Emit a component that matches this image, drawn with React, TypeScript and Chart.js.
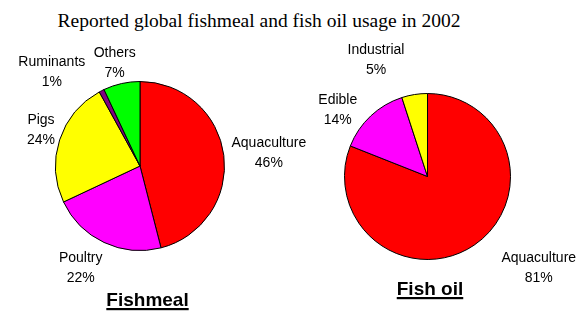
import React, { useEffect, useRef } from "react";
import Chart from "chart.js/auto";

const TITLE = "Reported global fishmeal and fish oil usage in 2002";

const fishmealLabels = ["Aquaculture", "Poultry", "Pigs", "Ruminants", "Others"];
const fishmealValues = [46, 22, 24, 1, 7];
const fishmealColors = ["#FF0000", "#FF00FF", "#FFFF00", "#800080", "#00FF00"];

const fishOilLabels = ["Aquaculture", "Edible", "Industrial"];
const fishOilValues = [81, 14, 5];
const fishOilColors = ["#FF0000", "#FF00FF", "#FFFF00"];

const sliceLabelPlugin = {
  id: "sliceLabels",
  afterDatasetsDraw(chart: any, _args: any, opts: any) {
    const ctx = chart.ctx;
    const meta = chart.getDatasetMeta(0);
    const labels = chart.data.labels;
    const values = chart.data.datasets[0].data;
    ctx.save();
    ctx.font = opts.font;
    ctx.fillStyle = "#000";
    ctx.textAlign = "center";
    ctx.textBaseline = "middle";
    meta.data.forEach((arc: any, i: number) => {
      const p = arc.getProps(["x", "y", "startAngle", "endAngle", "outerRadius"], true);
      const mid = (p.startAngle + p.endAngle) / 2;
      const dx = Math.cos(mid);
      const dy = Math.sin(mid);
      const lines = [String(labels[i]), values[i] + "%"];
      const w = Math.max(...lines.map((l) => ctx.measureText(l).width));
      const lh = opts.lineHeight;
      const h = lh * lines.length;
      const nudge = (opts.nudges && opts.nudges[i]) || [0, 0];
      const cx = p.x + (p.outerRadius + opts.gap) * dx + (dx * w) / 2 + nudge[0];
      const cy = p.y + (p.outerRadius + opts.gap) * dy + (dy * h) / 2 + nudge[1];
      lines.forEach((l, j) => ctx.fillText(l, cx, cy + (j - (lines.length - 1) / 2) * lh));
    });
    const cap = opts.caption;
    if (cap) {
      ctx.font = cap.font;
      ctx.textBaseline = "alphabetic";
      ctx.textAlign = "center";
      ctx.fillText(cap.text, cap.x, cap.y);
      const cw = ctx.measureText(cap.text).width;
      ctx.fillRect(cap.x - cw / 2, cap.y + 2.5, cw, 2.2);
    }
    ctx.restore();
  },
};

function makePie(
  canvas: HTMLCanvasElement,
  labels: string[],
  values: number[],
  colors: string[],
  padding: any,
  nudges: number[][],
  caption: any
) {
  return new Chart(canvas, {
    type: "pie",
    data: {
      labels,
      datasets: [
        {
          data: values,
          backgroundColor: colors,
          borderColor: "#000000",
          borderWidth: 1,
        },
      ],
    },
    options: {
      responsive: false,
      animation: false,
      layout: { padding },
      plugins: {
        legend: { display: false },
        tooltip: { enabled: false },
        sliceLabels: {
          font: "14px 'Liberation Sans', Arial, sans-serif",
          lineHeight: 20,
          gap: 8,
          nudges,
          caption,
        },
      } as any,
    },
    plugins: [sliceLabelPlugin as any],
  });
}

export default function App() {
  const leftRef = useRef<HTMLCanvasElement>(null);
  const rightRef = useRef<HTMLCanvasElement>(null);

  useEffect(() => {
    const a = makePie(
      leftRef.current!,
      fishmealLabels,
      fishmealValues,
      fishmealColors,
      { left: 55, right: 362, top: 81, bottom: 61 },
      [[0, 1], [-10.6, 0.6], [2.3, -1.2], [-31, 5.9], [-0.6, 6.5]],
      { text: "Fishmeal", x: 147.5, y: 305.5, font: "bold 19px 'Liberation Sans', Arial, sans-serif" }
    );
    const b = makePie(
      rightRef.current!,
      fishOilLabels,
      fishOilValues,
      fishOilColors,
      { left: 344, right: 76, top: 93, bottom: 52 },
      [[39.1, -0.6], [-14.1, 14.4], [-32.8, -6.9]],
      { text: "Fish oil", x: 430, y: 294.5, font: "bold 19px 'Liberation Sans', Arial, sans-serif" }
    );
    return () => {
      a.destroy();
      b.destroy();
    };
  }, []);

  const cv: React.CSSProperties = { position: "absolute", left: 0, top: 0, width: 587, height: 312 };
  return (
    <div style={{ position: "absolute", left: 0, top: 0, width: 587, height: 312, background: "#fff", overflow: "hidden" }}>
      <div
        style={{
          position: "absolute",
          left: 0,
          top: 9,
          width: 518,
          textAlign: "center",
          fontFamily: "'Liberation Serif', 'Times New Roman', serif",
          fontSize: 19.5,
          lineHeight: "24px",
          color: "#000",
          whiteSpace: "nowrap",
        }}
      >
        {TITLE}
      </div>
      <canvas ref={leftRef} width={587} height={312} style={cv} />
      <canvas ref={rightRef} width={587} height={312} style={cv} />
    </div>
  );
}
